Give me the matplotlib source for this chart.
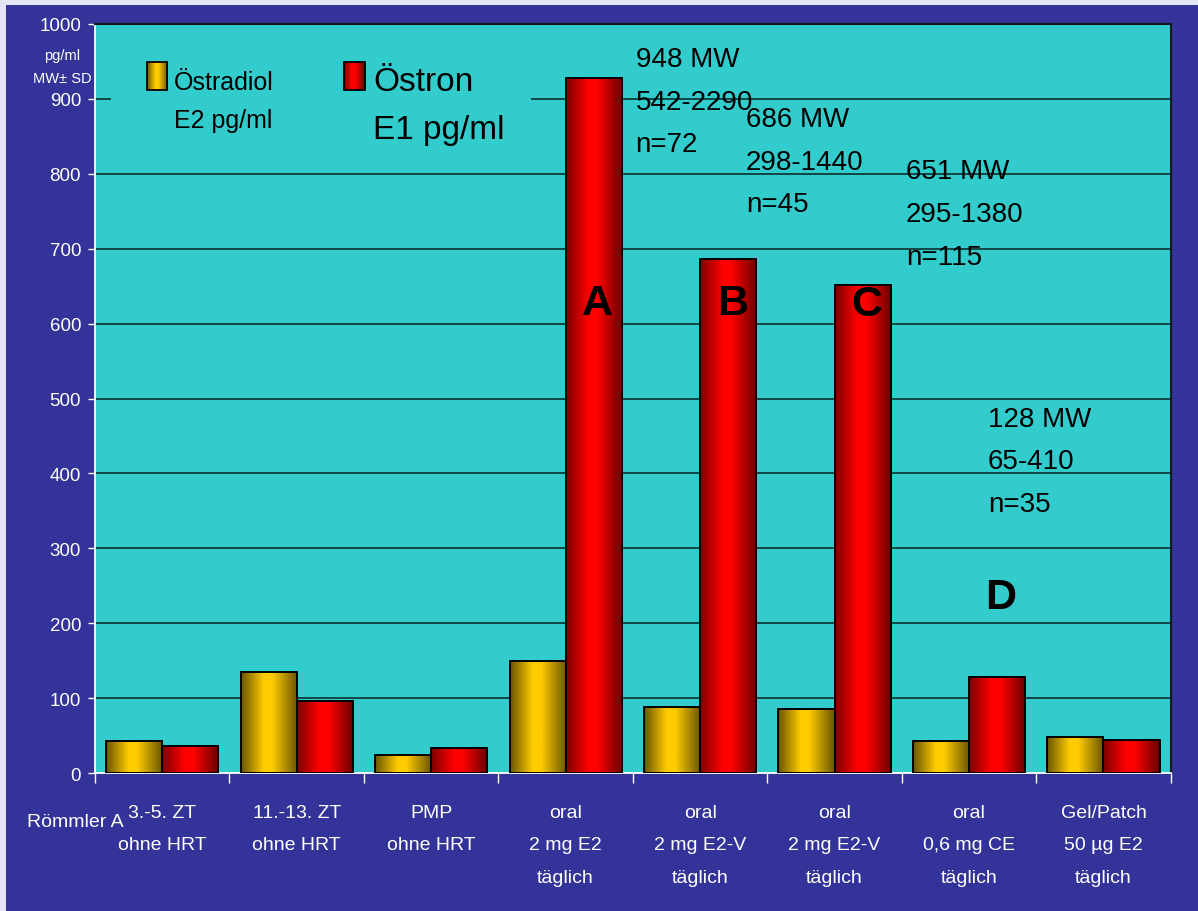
import numpy as np
import matplotlib
matplotlib.use("Agg")
import matplotlib.pyplot as plt
from matplotlib.patches import Rectangle

plt.rcParams['font.family'] = ['Liberation Sans', 'DejaVu Sans']

# data
groups = ["3.-5. ZT\nohne HRT", "11.-13. ZT\nohne HRT", "PMP\nohne HRT",
          "oral\n2 mg E2\ntäglich", "oral\n2 mg E2-V\ntäglich", "oral\n2 mg E2-V\ntäglich",
          "oral\n0,6 mg CE\ntäglich", "Gel/Patch\n50 µg E2\ntäglich"]
e2_values = [43, 135, 24, 149, 88, 85, 43, 48]
e1_values = [36, 96, 33, 928, 686, 651, 128, 44]
letters = ["A", "B", "C", "D"]
letter_groups = [3, 4, 5, 6]
letter_y = [627, 627, 626, 235]
notes = ["948 MW\n542-2290\nn=72", "686 MW\n298-1440\nn=45",
         "651 MW\n295-1380\nn=115", "128 MW\n65-410\nn=35"]
note_x = [3.52, 4.34, 5.53, 6.14]
note_y = [830, 750, 680, 350]   # baseline of the last line

BLUE = '#333399'
TURQ = '#33CCCC'
yellow_stops = ['#6a5600', '#ffcc00', '#ffcc00', '#6a5400']
red_stops = ['#800000', '#ff0000', '#ff0000', '#6a0000']


def gradient(stops, n=64):
    rgb = np.array([matplotlib.colors.to_rgb(c) for c in stops])
    pos = [0, 0.4, 0.55, 1]
    xs = np.linspace(0, 1, n)
    arr = np.stack([np.interp(xs, pos, rgb[:, k]) for k in range(3)], axis=-1)
    return arr[np.newaxis, :, :]


def fill_gradient(ax, rect, stops):
    x0, y0 = rect.get_x(), rect.get_y()
    w, h = rect.get_width(), rect.get_height()
    im = ax.imshow(gradient(stops), extent=(x0, x0 + w, y0, y0 + h),
                   aspect='auto', interpolation='bilinear', zorder=rect.get_zorder() - 0.1)
    im.set_clip_path(rect)


fig = plt.figure(figsize=(11.98, 9.12), dpi=100, facecolor=BLUE)
ax = fig.add_axes([0.0793, 0.1513, 0.8979, 0.8213])
ax.set_facecolor(TURQ)

# thin light frame of the slide
fig.patches.append(Rectangle((0, 1 - 6 / 912), 1, 6 / 912, transform=fig.transFigure,
                             facecolor='#e4e4f6', edgecolor='none'))
fig.patches.append(Rectangle((0, 0), 6 / 1198, 1, transform=fig.transFigure,
                             facecolor='#e4e4f6', edgecolor='none'))

x = np.arange(len(groups))
w = 0.417
bars_e2 = ax.bar(x - w / 2, e2_values, w, facecolor='none', edgecolor='black', linewidth=1.4, zorder=4)
bars_e1 = ax.bar(x + w / 2, e1_values, w, facecolor='none', edgecolor='black', linewidth=1.4, zorder=4)
for r in bars_e2:
    fill_gradient(ax, r, yellow_stops)
for r in bars_e1:
    fill_gradient(ax, r, red_stops)

ax.set_xlim(-0.5, 7.5)
ax.set_ylim(0, 1000)

# grid
for v in range(100, 1000, 100):
    ax.axhline(v, color='#0a2020', linewidth=1.1, zorder=1)

# y axis
ax.set_yticks(range(0, 1001, 100))
ax.tick_params(axis='y', colors='white', labelcolor='white', labelsize=13.5,
               length=5, width=1, direction='out', pad=5)

# x axis: ticks at group boundaries, labels at centres
ax.set_xticks(np.arange(-0.5, 8, 1))
ax.set_xticklabels([])
ax.set_xticks(x, minor=True)
ax.set_xticklabels(groups, minor=True, color='white', fontsize=14, linespacing=2.2)
ax.tick_params(axis='x', which='major', colors='white', length=7, width=1, direction='out')
ax.tick_params(axis='x', which='minor', length=0, pad=22)

for side in ['left', 'bottom']:
    ax.spines[side].set_color('white')
    ax.spines[side].set_linewidth(1.3)
for side in ['top', 'right']:
    ax.spines[side].set_color('#101818')
    ax.spines[side].set_linewidth(1.5)

ax.text(-0.745, 922, "pg/ml\nMW\u00b1 SD", color='white', fontsize=10.5, ha='center',
        va='baseline', linespacing=1.9, clip_on=False)
ax.text(-0.284, -71, "Römmler A", color='white', fontsize=14, ha='right',
        va='baseline', clip_on=False)

# legend box
ax.add_patch(Rectangle((-0.38, 833), 3.12, 150, facecolor=TURQ, edgecolor='none', zorder=2))
sq_e2 = Rectangle((-0.113, 912), 0.149, 37, facecolor='none', edgecolor='black', linewidth=1.3, zorder=4)
sq_e1 = Rectangle((1.353, 912), 0.156, 37, facecolor='none', edgecolor='black', linewidth=1.3, zorder=4)
ax.add_patch(sq_e2)
ax.add_patch(sq_e1)
fill_gradient(ax, sq_e2, yellow_stops)
fill_gradient(ax, sq_e1, red_stops)
ax.text(0.088, 862, "Östradiol\nE2 pg/ml", fontsize=18, color='black', ha='left',
        va='baseline', linespacing=1.76, zorder=5)
ax.text(1.568, 848, "Östron\nE1 pg/ml", fontsize=24, color='black', ha='left',
        va='baseline', linespacing=1.72, zorder=5)

# annotations
for t, xx, yy in zip(notes, note_x, note_y):
    ax.text(xx, yy, t, fontsize=20, color='black', ha='left', va='baseline',
            linespacing=1.83, zorder=5)
for t, g, yy in zip(letters, letter_groups, letter_y):
    ax.text(g + w / 2 + 0.03, yy, t, fontsize=31, fontweight='bold', color='black',
            ha='center', va='center', zorder=5)

fig.savefig("out.png", dpi=100, facecolor=BLUE)
